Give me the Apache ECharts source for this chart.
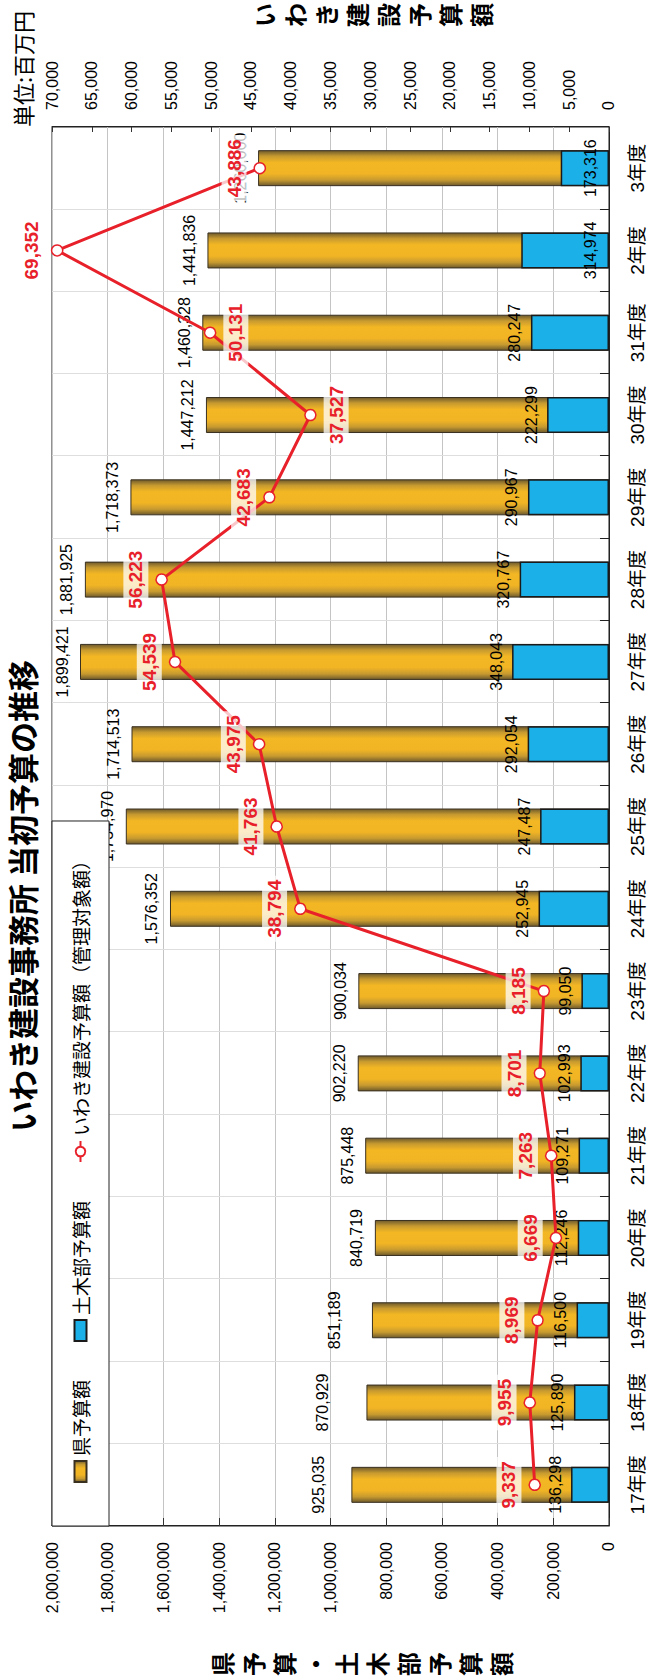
<!DOCTYPE html>
<html><head><meta charset="utf-8">
<script src="https://cdn.jsdelivr.net/npm/echarts@6/dist/echarts.min.js"></script>
<style>
html,body{margin:0;padding:0;background:#fff;overflow:hidden;width:647px;height:1679px;}
#wrap{position:absolute;left:0;top:0;width:1679px;height:647px;transform-origin:0 0;transform:translate(0,1679px) rotate(-90deg);}
#chart{width:1679px;height:647px;background:#fff;}
</style></head><body>
<div id="wrap"><div id="chart"></div></div>
<script>
// ---- data ----
const categories = ['17年度','18年度','19年度','20年度','21年度','22年度','23年度','24年度','25年度','26年度','27年度','28年度','29年度','30年度','31年度','2年度','3年度'];
const prefBudget = [925035, 870929, 851189, 840719, 875448, 902220, 900034, 1576352, 1734970, 1714513, 1899421, 1881925, 1718373, 1447212, 1460328, 1441836, 1260000];
const civilBudget = [136298, 125890, 116500, 112246, 109271, 102993, 99050, 252945, 247487, 292054, 348043, 320767, 290967, 222299, 280247, 314974, 173316];
const iwakiBudget = [9337, 9955, 8969, 6669, 7263, 8701, 8185, 38794, 41763, 43975, 54539, 56223, 42683, 37527, 50131, 69352, 43886];
const leftAxisTicks = [0, 2000000, 200000];   // min, max, interval
const rightAxisTicks = [0, 70000, 5000];      // min, max, interval
const seriesNames = ['県予算額', '土木部予算額', 'いわき建設予算額（管理対象額）'];

// ---- presentation ----
const LAT = "'Liberation Sans', Arial, 'Noto Sans CJK JP', sans-serif";
const CJK = "'Noto Sans CJK JP', 'Liberation Sans', sans-serif";
function hasFont(f){
  const c=document.createElement('canvas').getContext('2d');
  c.font='bold 40px monospace'; const a=c.measureText('9,337,000').width;
  c.font="bold 40px '"+f+"', monospace"; const b=c.measureText('9,337,000').width;
  return Math.abs(a-b)>0.5;
}
const narrow = hasFont('Liberation Sans Narrow');
const redFont = narrow ? "'Liberation Sans Narrow', 'Arial Narrow', sans-serif" : LAT;
const redSize = narrow ? 22 : 19;
const fmt = v => Number(v).toLocaleString('en-US');
const prefLabelDistance = {0: 25, 1: 36, 2: 29};
const civilInsideIdx = [15, 16];
const lineBottomIdx = [13, 14];

const chart = echarts.init(document.getElementById('chart'), null, {renderer: 'svg'});
const orangeGrad = new echarts.graphic.LinearGradient(0, 0, 1, 0, [
  {offset: 0, color: '#6e5a2c'},
  {offset: 0.16, color: '#c79a30'},
  {offset: 0.34, color: '#f1b424'},
  {offset: 0.66, color: '#f3b724'},
  {offset: 0.84, color: '#c79a30'},
  {offset: 1, color: '#6e5a2c'}
]);

chart.setOption({
  backgroundColor: '#fff',
  animation: false,
  grid: {left: 153, right: 127, top: 52, bottom: 38, show: true, borderColor: '#222', borderWidth: 1, backgroundColor: 'transparent'},
  legend: {
    left: 153, top: 52, z: 10, orient: 'horizontal', padding: [19, 30, 19, 43], itemGap: 38,
    itemWidth: 21, itemHeight: 12, borderColor: '#222', borderWidth: 1, backgroundColor: '#fff',
    textStyle: {fontSize: 19, color: '#000', fontFamily: CJK},
    data: [{name: seriesNames[0], icon: 'rect'}, {name: seriesNames[1], icon: 'rect'}, {name: seriesNames[2]}]
  },
  xAxis: {
    type: 'category', data: categories, boundaryGap: true,
    axisLine: {lineStyle: {color: '#222', width: 1}},
    axisTick: {show: true, inside: true, length: 9, lineStyle: {color: '#222'}},
    axisLabel: {fontSize: 19, color: '#000', margin: 19, fontFamily: LAT, interval: 0},
    splitLine: {show: true, lineStyle: {color: '#dedede'}}
  },
  yAxis: [
    {type: 'value', min: leftAxisTicks[0], max: leftAxisTicks[1], interval: leftAxisTicks[2], position: 'left',
      axisLine: {show: true, lineStyle: {color: '#222'}},
      axisTick: {show: true, inside: true, length: 8, lineStyle: {color: '#333'}},
      axisLabel: {fontSize: 16, color: '#000', margin: 16, fontFamily: LAT, formatter: v => fmt(v)},
      splitLine: {show: true, lineStyle: {color: '#c4c4c4'}}},
    {type: 'value', min: rightAxisTicks[0], max: rightAxisTicks[1], interval: rightAxisTicks[2], position: 'right',
      axisLine: {show: true, lineStyle: {color: '#222'}},
      axisTick: {show: true, inside: true, length: 5, lineStyle: {color: '#333'}},
      axisLabel: {fontSize: 16, color: '#000', margin: 17, fontFamily: LAT, formatter: v => fmt(v)},
      splitLine: {show: false}}
  ],
  series: [
    {name: seriesNames[0], type: 'bar', yAxisIndex: 0, barWidth: 36, barGap: '-100%',
      itemStyle: {color: orangeGrad, borderColor: '#3a3020', borderWidth: 1},
      label: {show: true, position: 'top', distance: 10, fontSize: 16, color: '#000', fontFamily: LAT, formatter: p => fmt(p.value)},
      data: prefBudget.map((v, i) => prefLabelDistance[i] !== undefined ? {value: v, label: {distance: prefLabelDistance[i]}} : v)},
    {name: seriesNames[1], type: 'bar', yAxisIndex: 0, barWidth: 36, barGap: '-100%',
      itemStyle: {color: '#1cb0e8', borderColor: '#1a1a1a', borderWidth: 1.5},
      label: {show: true, position: 'top', distance: 8, fontSize: 16, color: '#000', fontFamily: LAT, formatter: p => fmt(p.value)},
      data: civilBudget.map((v, i) => civilInsideIdx.includes(i) ? {value: v, label: {position: 'insideBottom', distance: 10}} : v)},
    {name: seriesNames[2], type: 'line', yAxisIndex: 1, z: 5,
      symbol: 'circle', symbolSize: 11,
      lineStyle: {color: '#e8202a', width: 3},
      itemStyle: {color: '#fff', borderColor: '#e8202a', borderWidth: 1.5},
      label: {show: true, position: 'top', distance: 7, fontSize: redSize, fontWeight: 'bold', color: '#e8202a', fontFamily: redFont,
        backgroundColor: 'rgba(255,255,255,0.75)', padding: [3, 4], formatter: p => fmt(p.value)},
      data: iwakiBudget.map((v, i) => lineBottomIdx.includes(i) ? {value: v, label: {position: 'bottom'}} : v)}
  ],
  graphic: [
    {type: 'text', x: 783, y: 6, z: 10, style: {text: 'いわき建設事務所 当初予算の推移', fontSize: 31, fontWeight: 'bold', fontFamily: CJK, fill: '#000', align: 'center', verticalAlign: 'top'}},
    {type: 'text', x: 15, y: 206, z: 10, style: {text: '県\n予\n算\n・\n土\n木\n部\n予\n算\n額', fontSize: 24, lineHeight: 31, fontWeight: 'bold', fontFamily: CJK, fill: '#000', align: 'center', verticalAlign: 'top'}},
    {type: 'text', x: 1664, y: 248, z: 10, style: {text: 'い\nわ\nき\n建\n設\n予\n算\n額', fontSize: 24, lineHeight: 31, fontWeight: 'bold', fontFamily: CJK, fill: '#000', align: 'center', verticalAlign: 'top'}},
    {type: 'text', x: 1552, y: 22, z: 10, style: {text: '単位:百万円', fontSize: 22, fontFamily: CJK, fill: '#000', align: 'left', verticalAlign: 'middle'}}
  ]
});
</script>
</body></html>
